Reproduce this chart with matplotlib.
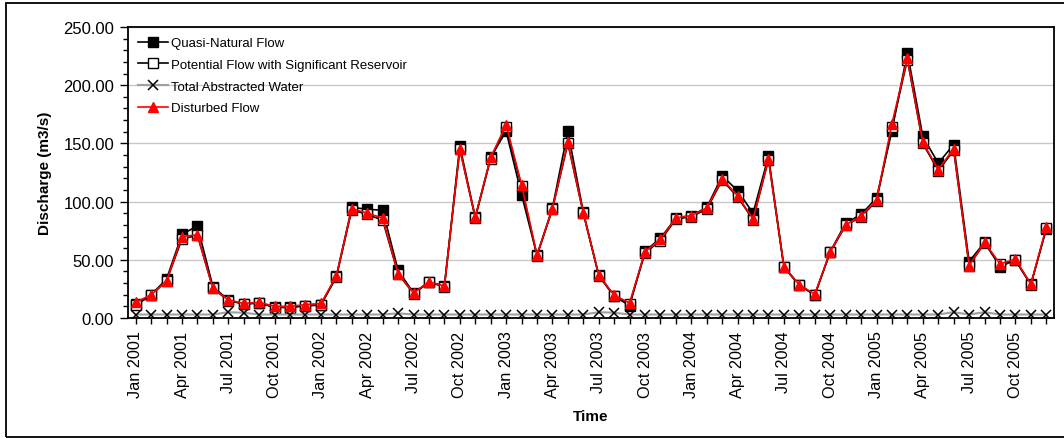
import matplotlib
matplotlib.use("Agg")
import matplotlib.pyplot as plt
from matplotlib.patches import Rectangle
from matplotlib.ticker import MultipleLocator, FixedLocator
import numpy as np

plt.rcParams['font.family'] = ['Liberation Sans', 'DejaVu Sans']

months = ["Jan", "Feb", "Mar", "Apr", "May", "Jun", "Jul", "Aug", "Sep", "Oct", "Nov", "Dec"]
years = [2001, 2002, 2003, 2004, 2005]
categories = [f"{m} {y}" for y in years for m in months]

quasi_natural = [12, 20, 33.5, 72, 79, 27, 15.5, 12, 13, 9.5, 9.5, 10.5,
                 11, 36, 95, 93.5, 92.5, 41, 21.5, 31, 27.5, 148, 86.5, 138,
                 160.5, 106, 54, 94.5, 160.5, 91, 37, 19, 10.5, 57.5, 68.5, 86,
                 88, 95, 122, 109.5, 90, 139, 44, 28.5, 19.5, 57, 81.5, 89,
                 103, 161, 228, 156, 133, 149, 48.5, 65, 44, 50, 29, 76.5]

potential_flow = [11, 19.5, 32, 68, 71, 25.5, 15, 12, 13, 9, 9, 10.5,
                  11.5, 35, 93, 89, 84, 38, 21, 30.5, 27, 145, 86, 137,
                  164, 113, 53.5, 93.5, 150, 90, 36.5, 18.5, 12, 56, 66.5, 85,
                  87, 93.5, 118.5, 104, 84.5, 136, 43.5, 28, 20, 56.5, 79.5, 87,
                  100.5, 164, 222, 150, 126.5, 144, 45, 64.5, 46, 49.5, 28.5, 77]

abstracted_water = [3, 3, 3, 3, 3, 3, 5, 4.5, 3, 3, 3, 3,
                    3, 3, 3, 3, 3, 4, 3, 3, 3, 3, 3, 3,
                    3, 3, 3, 3, 3, 3, 5, 4.5, 3, 3, 3, 3,
                    3, 3, 3, 3, 3, 3, 3, 3, 3, 3, 3, 3,
                    3, 3, 3, 3, 3, 5, 3, 5, 3, 3, 3, 3]

disturbed_flow = [13.5, 20, 32, 70, 71.5, 25.5, 15.5, 12.5, 13.5, 10, 10, 11.5,
                  12.5, 36, 94, 90, 86, 38, 21.5, 31, 27.5, 145, 86.5, 138,
                  166, 114.5, 54, 94, 151, 90.5, 37, 19.5, 13, 57, 67.5, 86,
                  88, 94.5, 119.5, 105, 85, 136.5, 44, 28.5, 20.5, 57, 80, 87.5,
                  101.5, 167, 223, 151, 127.5, 145.5, 45, 65, 46.5, 50.5, 29, 78]

yticks = [0, 50, 100, 150, 200, 250]
label_every = 3

W, H = 1064, 439
fig = plt.figure(figsize=(W / 100, H / 100), dpi=100)
ax = fig.add_axes([128 / W, 1 - 319 / H, (1054 - 128) / W, (319 - 28) / H])

x = np.arange(len(categories))

ax.plot(x, quasi_natural, color='black', lw=1.2, marker='s', ms=6.5,
        mfc='black', mec='black', label='Quasi-Natural Flow', zorder=3)
ax.plot(x, potential_flow, color='black', lw=1.2, marker='s', ms=6.5,
        mfc='white', mec='black', mew=1.0,
        label='Potential Flow with Significant Reservoir', zorder=4)
ax.plot(x, abstracted_water, color='#a0a0a0', lw=1.5, marker='x', ms=6.5,
        mec='black', mew=1.1, label='Total Abstracted Water', zorder=5)
ax.plot(x, disturbed_flow, color='#ff0000', lw=1.2, marker='^', ms=6.5,
        mfc='#ff0000', mec='#ff0000', label='Disturbed Flow', zorder=6)

ax.set_xlim(-0.5, len(categories) - 0.5)
ax.set_ylim(0, 250)
ax.yaxis.set_major_locator(FixedLocator(yticks))
ax.yaxis.set_minor_locator(MultipleLocator(10))
ax.set_yticklabels([f"{v:.2f}" for v in yticks], fontsize=12)
ax.grid(axis='y', which='major', color='#c8c8c8', lw=1.0)
ax.set_axisbelow(True)

ax.xaxis.set_major_locator(FixedLocator(x))
ax.set_xticklabels([c if i % label_every == 0 else "" for i, c in enumerate(categories)],
                   rotation=90, fontsize=11.7)
ax.tick_params(axis='x', which='major', length=4, width=1, direction='out', pad=5)
ax.tick_params(axis='y', which='major', length=6, width=1, direction='out', pad=4)
ax.tick_params(axis='y', which='minor', length=3.5, width=1, direction='out')

for sp in ax.spines.values():
    sp.set_linewidth(1.3)
    sp.set_color('black')

ax.set_ylabel("Discharge (m3/s)", fontsize=11, fontweight='bold', labelpad=8)
ax.set_xlabel("Time", fontsize=11, fontweight='bold', labelpad=8)

leg = ax.legend(loc='upper left', bbox_to_anchor=(0.0, 1.0), frameon=False,
                fontsize=9.5, handlelength=2.3, handletextpad=0.2,
                labelspacing=0.72, borderaxespad=0.35)

fig.patches.append(Rectangle((6 / W, 1 - 438 / H), 1.2, (438 - 4) / H,
                             transform=fig.transFigure, fill=False,
                             edgecolor='black', lw=1.3, zorder=0))

fig.savefig("out.png", dpi=100)
